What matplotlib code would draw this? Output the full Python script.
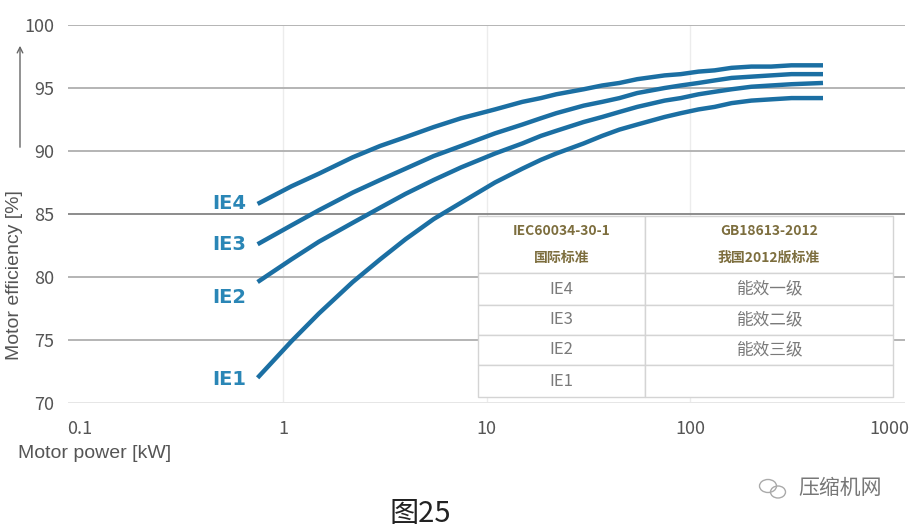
import numpy as np
import matplotlib.pyplot as plt
import matplotlib.transforms as mtransforms
from matplotlib.patches import Ellipse

# motor efficiency classes
power_kw = [0.75, 1.1, 1.5, 2.2, 3, 4, 5.5, 7.5, 11, 15, 18.5, 22, 30, 37, 45, 55, 75, 90,
            110, 132, 160, 200, 250, 315, 450]
ie1 = [72.0, 74.9, 77.1, 79.6, 81.4, 83.0, 84.6, 85.9, 87.5, 88.6, 89.3, 89.8, 90.6, 91.2,
       91.7, 92.1, 92.7, 93.0, 93.3, 93.5, 93.8, 94.0, 94.1, 94.2, 94.2]
ie2 = [79.6, 81.4, 82.8, 84.3, 85.5, 86.6, 87.7, 88.7, 89.8, 90.6, 91.2, 91.6, 92.3, 92.7,
       93.1, 93.5, 94.0, 94.2, 94.5, 94.7, 94.9, 95.1, 95.2, 95.3, 95.4]
ie3 = [82.6, 84.1, 85.3, 86.7, 87.7, 88.6, 89.6, 90.4, 91.4, 92.1, 92.6, 93.0, 93.6, 93.9,
       94.2, 94.6, 95.0, 95.2, 95.4, 95.6, 95.8, 95.9, 96.0, 96.1, 96.1]
ie4 = [85.8, 87.2, 88.2, 89.5, 90.4, 91.1, 91.9, 92.6, 93.3, 93.9, 94.2, 94.5, 94.9, 95.2,
       95.4, 95.7, 96.0, 96.1, 96.3, 96.4, 96.6, 96.7, 96.7, 96.8, 96.8]
curve_names = ["IE1", "IE2", "IE3", "IE4"]
label_offsets = [-1, -11, 0, 0]  # points, vertical shift of curve labels

yticks = [70, 75, 80, 85, 90, 95, 100]
xticks = [0.1, 1, 10, 100, 1000]
xticklabels = ["0.1", "1", "10", "100", "1000"]

table_header = [["IEC60034-30-1\n国际标准", "GB18613-2012\n我国2012版标准"]]
table_rows = [["IE4", "能效一级"], ["IE3", "能效二级"], ["IE2", "能效三级"], ["IE1", ""]]

plt.rcParams['font.family'] = ['Liberation Sans Narrow', 'Noto Sans CJK SC', 'DejaVu Sans']

fig = plt.figure(figsize=(9.09, 5.31), dpi=100)
ax = fig.add_axes([68 / 909, 1 - 403 / 531, (905 - 68) / 909, (403 - 25) / 531])
ax.set_xscale('log')
ax.set_xlim(0.0878, 1138)
ax.set_ylim(70, 100)

# grid
for y in yticks:
    col = '#8c8c8c' if y == 85 else '#b4b4b4'
    if y == 70:
        col = '#e6e6e6'
    ax.axhline(y, color=col, lw=1.4, zorder=1)
for x in [1, 10, 100]:
    ax.axvline(x, color='#ececec', lw=1.0, zorder=0)

for s in ax.spines.values():
    s.set_visible(False)
ax.tick_params(length=0, colors='#555555', labelsize=13)
ax.set_yticks(yticks)
ax.set_xticks(xticks)
ax.set_xticklabels(xticklabels)
ax.minorticks_off()
ax.tick_params(axis='x', pad=12)
ax.tick_params(axis='y', pad=10)
last = ax.get_xticklabels()[-1]
last.set_horizontalalignment('right')
last.set_transform(last.get_transform() + mtransforms.ScaledTranslation(0.16, 0, fig.dpi_scale_trans))

# curves
for name, vals, dy in zip(curve_names, [ie1, ie2, ie3, ie4], label_offsets):
    ax.plot(power_kw, vals, color='#1b6fa3', lw=3.2, solid_capstyle='butt', zorder=3)
    ax.annotate(name, (power_kw[0], vals[0]), xytext=(-8, dy), textcoords='offset points',
                ha='right', va='center', color='#2a86b6', fontsize=14, fontweight='bold',
                family=['Liberation Sans Narrow', 'DejaVu Sans'])

# standards table
cell_text = table_header + table_rows
tbl = ax.table(cellText=cell_text, cellLoc='center',
               bbox=[(478 - 68) / 837, (403 - 397) / 378, (893 - 478) / 837, (397 - 216) / 378],
               colWidths=[(645 - 478), (893 - 645)], zorder=5)
tbl.auto_set_font_size(False)
row_h = [57, 32, 30, 30, 32]
tot = sum(row_h)
for (r, c), cell in tbl.get_celld().items():
    cell.set_edgecolor('#d4d4d4')
    cell.set_linewidth(1.0)
    cell.set_facecolor('white')
    cell.set_height(row_h[r] / tot * (397 - 216) / 378)
    txt = cell.get_text()
    if r == 0:
        txt.set_color('#7d6e3e')
        txt.set_fontsize(10)
        txt.set_fontweight('bold')
        txt.set_linespacing(2.1)
    else:
        txt.set_color('#7a7a7a')
        txt.set_fontsize(12)

# axis labels
fig.text(15 / 909, 1 - 275 / 531, "Motor efficiency [%]", rotation=90, ha='center', va='center',
         fontsize=14, color='#555555', family=['Liberation Sans', 'DejaVu Sans'])
ax.annotate("", xy=(20 / 909, 1 - 43 / 531), xytext=(20 / 909, 1 - 150 / 531),
            xycoords='figure fraction', textcoords='figure fraction',
            arrowprops=dict(arrowstyle='->', color='#666666', lw=1.0))
fig.text(18 / 909, 1 - 453 / 531, "Motor power [kW]", ha='left', va='center',
         fontsize=14, color='#555555', family=['Liberation Sans', 'DejaVu Sans'])

# caption and watermark
fig.text(420 / 909, 1 - 514 / 531, "图25", ha='center', va='center', fontsize=21,
         color='#222222', family=['Noto Sans CJK SC', 'DejaVu Sans'])
fig.text(840 / 909, 1 - 488 / 531, "压缩机网", ha='center', va='center', fontsize=15,
         color='#777777', family=['Noto Sans CJK SC', 'DejaVu Sans'])
for cx, cy, w, h in [(768, 486, 17, 13), (778, 492, 15, 12)]:
    fig.add_artist(Ellipse((cx / 909, 1 - cy / 531), w / 909, h / 531, fill=False,
                           edgecolor='#aaaaaa', lw=1.0, transform=fig.transFigure))

fig.savefig('out.png', dpi=100)
